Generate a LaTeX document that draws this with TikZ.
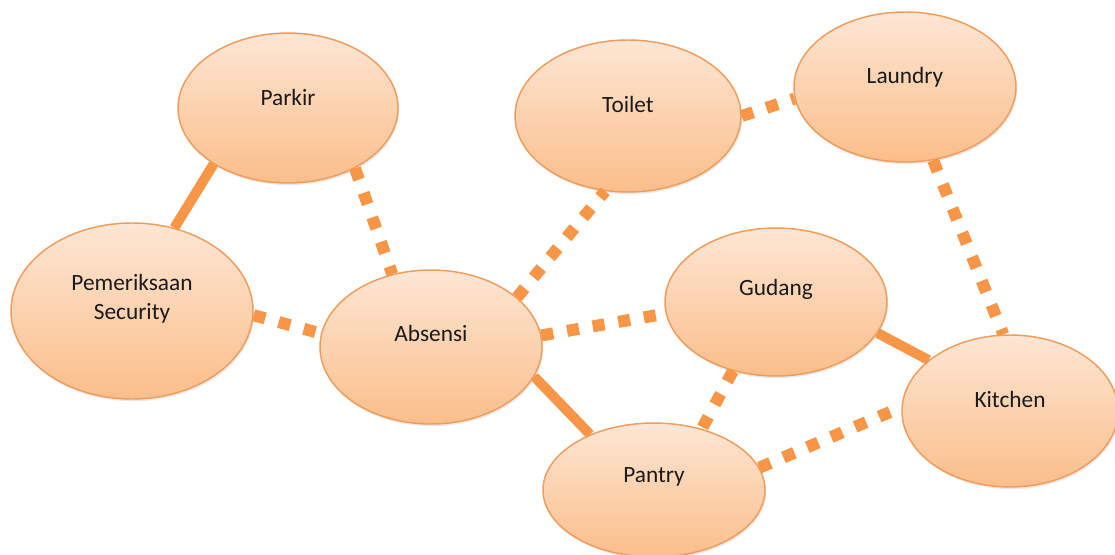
\documentclass[tikz,border=0pt]{standalone}
\usepackage{fontspec}
\setmainfont{Carlito}
\usetikzlibrary{shapes.geometric,shadows}
\definecolor{conn}{HTML}{F79646}
\definecolor{topc}{HTML}{FDE6D4}
\definecolor{botc}{HTML}{FBBE8A}
\definecolor{edgec}{HTML}{F09C5C}
\definecolor{txt}{HTML}{1A1A1A}
\begin{document}
\begin{tikzpicture}[x=0.75pt,y=-0.75pt,
  place/.style={ellipse, draw=edgec, line width=1.1pt, top color=topc, bottom color=botc, inner sep=0pt,
    drop shadow={opacity=0.18, shadow xshift=0.8pt, shadow yshift=-1.6pt}},
  lbl/.style={font=\fontsize{17.5}{21.75}\selectfont, text=txt, anchor=base, inner sep=0pt},
  solidlink/.style={draw=conn, line width=7.5pt},
  dotlink/.style={draw=conn, line width=9pt, dash pattern=on 9pt off 10.5pt}]
\useasboundingbox (0,0) rectangle (1115,554);

\node[place, minimum width=165pt, minimum height=112.5pt] (parkir) at (288,108) {};
\node[place, minimum width=181.5pt, minimum height=132pt] (sec) at (132,311) {};
\node[place, minimum width=166.5pt, minimum height=115.5pt] (abs) at (431,347) {};
\node[place, minimum width=169.5pt, minimum height=114pt] (toilet) at (628,116) {};
\node[place, minimum width=166.5pt, minimum height=112.5pt] (laundry) at (905,87) {};
\node[place, minimum width=166.5pt, minimum height=111pt] (gudang) at (776,302) {};
\node[place, minimum width=162pt, minimum height=114pt] (kitchen) at (1010,411) {};
\node[place, minimum width=166.5pt, minimum height=100.5pt] (pantry) at (654,490) {};

\draw[solidlink] (parkir.217) -- (sec.63);
\draw[dotlink] (parkir.318) -- (abs.118);
\draw[dotlink] (sec.358) -- (abs.173);
\draw[dotlink] (abs.30) -- (toilet.253);
\draw[dotlink] (abs.6) -- (gudang.186);
\draw[solidlink] (abs.344) -- (pantry.139);
\draw[dotlink] (toilet.0) -- (laundry.186);
\draw[dotlink] (laundry.291) -- (kitchen.95);
\draw[solidlink] (gudang.343) -- (kitchen.148);
\draw[dotlink] (gudang.238) -- (pantry.52);
\draw[dotlink] (pantry.12) -- (kitchen.178);

\node[lbl] (parkirT) at (288,105) {Parkir};
\node[lbl] (secT1) at (132,290) {Pemeriksaan};
\node[lbl] (secT2) at (132,319) {Security};
\node[lbl] (absT) at (431,341) {Absensi};
\node[lbl] (toiletT) at (628,112) {Toilet};
\node[lbl] (laundryT) at (905,83) {Laundry};
\node[lbl] (gudangT) at (776,295) {Gudang};
\node[lbl] (kitchenT) at (1010,407) {Kitchen};
\node[lbl] (pantryT) at (654,482) {Pantry};
\end{tikzpicture}
\end{document}
